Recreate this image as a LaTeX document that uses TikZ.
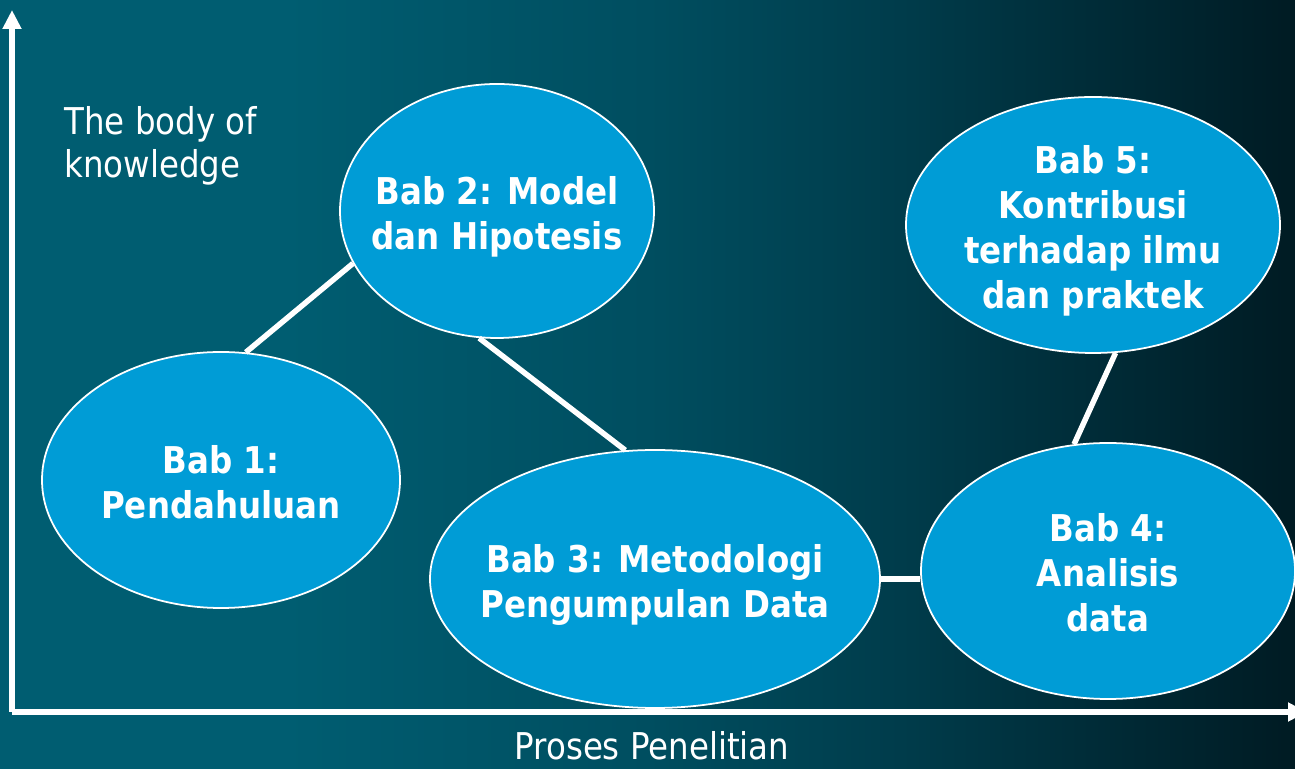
\documentclass[tikz,border=0pt]{standalone}
\usepackage{fontspec}
\setmainfont{DejaVu Sans}[FakeStretch=0.88]
\usetikzlibrary{arrows.meta, shapes.geometric}

\definecolor{bgA}{RGB}{0,93,113}
\definecolor{bgB}{RGB}{0,78,96}
\definecolor{bgC}{RGB}{0,60,75}
\definecolor{bgD}{RGB}{0,35,45}
\definecolor{bgE}{RGB}{0,27,35}
\definecolor{babblue}{RGB}{0,156,214}

\pgfdeclarehorizontalshading{slideshade}{100bp}{color(0bp)=(bgA); color(25bp)=(bgA); color(36bp)=(bgA); color(50bp)=(bgB); color(59.75bp)=(bgC); color(71.3bp)=(bgD); color(75bp)=(bgE); color(100bp)=(bgE)}

% centred text of zero size, so the ellipse keeps its given size
\newcommand{\babtext}[1]{\smash{\raisebox{-9pt}{\makebox[0pt]{\begin{tabular}{@{}c@{}}#1\end{tabular}}}}}

\begin{document}
\begin{tikzpicture}[
    >={Triangle[length=3.8mm, width=3.6mm]},
    axis/.style={->, white, line width=1.2mm},
    bab/.style={ellipse, draw=white, line width=1pt, fill=babblue, inner sep=0pt,
        text=white, font=\fontsize{21}{25.6}\selectfont\bfseries},
    link/.style={white, line width=1.1mm},
    every node/.style={font=\fontsize{21}{24.5}\selectfont}
]

    % === Background ===
    \useasboundingbox (0,0) rectangle (25.9,15.36);
    \shade[shading=slideshade] (0,0) rectangle (25.9,15.36);

    % === Axes ===
    \coordinate (O) at (0.24,1.12);
    \coordinate (Ytip) at (0.24,15.16);
    \coordinate (Xtip) at (26.14,1.12);
    \draw[axis] (O) -- (Ytip);
    \draw[axis] (O) -- (Xtip);

    \node[white, anchor=north west, align=left, inner sep=0pt] (ylabel) at (1.28,13.24)
        {The body of\\knowledge};
    \node[white, anchor=base, inner sep=0pt] (xlabel) at (13.04,0.18) {Proses Penelitian};

    % === Chapters ===
    \node[bab, minimum width=7.16cm, minimum height=5.12cm] (b1) at (4.42,5.76)
        {\babtext{Bab 1:\\Pendahuluan}};
    \node[bab, minimum width=6.28cm, minimum height=5.08cm] (b2) at (9.94,11.14)
        {\babtext{Bab 2: Model\\dan Hipotesis}};
    \node[bab, minimum width=9.0cm, minimum height=5.16cm] (b3) at (13.10,3.78)
        {\babtext{Bab 3: Metodologi\\Pengumpulan Data}};
    \node[bab, minimum width=7.48cm, minimum height=5.12cm] (b4) at (22.16,3.94)
        {\babtext{Bab 4:\\Analisis\\data}};
    \node[bab, minimum width=7.48cm, minimum height=5.12cm] (b5) at (21.86,10.86)
        {\babtext{Bab 5:\\Kontribusi\\terhadap ilmu\\dan praktek}};

    % === Links ===
    \draw[link] (b1.79) -- (b2.200);
    \draw[link] (b2.262) -- (b3.103);
    \draw[link] (b3.east) -- (b3.east -| b4.west);
    \draw[link] (b4.105) -- (b5.280);

\end{tikzpicture}
\end{document}
